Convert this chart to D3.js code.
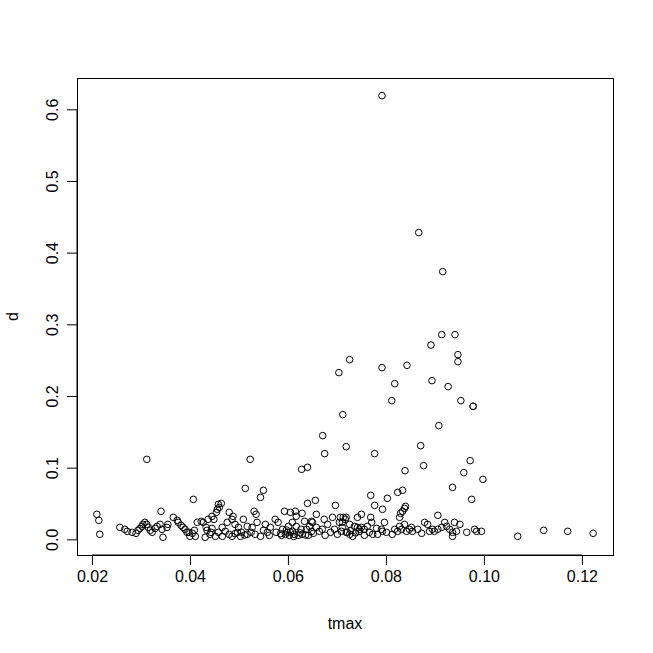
<!DOCTYPE html>
<html><head><meta charset="utf-8">
<script src="https://cdn.jsdelivr.net/npm/d3@7"></script>
<style>body{margin:0;background:#fff}svg{display:block}text{font-family:"Liberation Sans",Arial,sans-serif;fill:#000}</style>
</head><body>
<script>
const tmax = [0.0210,0.0214,0.0216,0.0257,0.0267,0.0272,0.0282,0.0290,0.0294,0.0298,0.0302,0.0304,0.0308,0.0312,0.0315,0.0319,0.0323,0.0329,0.0333,0.0339,0.0341,0.0343,0.0345,0.0353,0.0355,0.0366,0.0374,0.0376,0.0382,0.0386,0.0390,0.0398,0.0405,0.0409,0.0411,0.0407,0.0415,0.0423,0.0427,0.0433,0.0435,0.0443,0.0445,0.0449,0.0445,0.0454,0.0456,0.0458,0.0312,0.0437,0.0441,0.0431,0.0452,0.0400,0.0394,
0.0464,0.0460,0.0513,0.0550,0.0544,0.0523,0.0640,0.0656,0.0697,0.0531,0.0535,0.0480,0.0488,0.0593,0.0605,0.0615,0.0629,0.0617,0.0634,0.0648,0.0658,0.0674,0.0691,0.0707,0.0713,0.0719,
0.0476,0.0486,0.0492,0.0499,0.0509,0.0517,0.0527,0.0537,0.0544,0.0554,0.0564,0.0574,0.0580,0.0589,0.0595,0.0601,0.0609,0.0503,0.0517,0.0486,0.0466,0.0466,0.0458,
0.0609,0.0617,0.0627,0.0638,0.0644,0.0650,0.0658,0.0664,0.0670,0.0681,0.0687,0.0695,0.0705,0.0711,0.0717,0.0721,
0.0599,0.0603,0.0613,0.0621,0.0629,0.0562,0.0576,0.0525,0.0550,0.0472,0.0480,0.0497,0.0533,0.0558,0.0587,0.0642,0.0652,0.0676,0.0701,
0.0585,0.0605,0.0612,0.0625,0.0636,0.0648,0.0597,0.0492,0.0505,0.0512,0.0728,0.0738,0.0745,
0.0742,0.0750,0.0769,0.0711,0.0726,0.0736,0.0742,0.0746,0.0750,0.0756,0.0762,0.0771,0.0709,0.0719,0.0726,0.0732,0.0756,0.0766,0.0773,0.0783,0.0781,0.0791,0.0793,0.0797,0.0801,0.0813,0.0818,0.0824,0.0828,0.0832,0.0838,0.0842,0.0848,0.0852,0.0854,0.0865,0.0873,0.0879,0.0885,0.0889,0.0895,0.0899,0.0906,0.0914,0.0920,0.0924,0.0930,0.0936,0.0940,0.0944,0.0951,0.0936,0.0965,0.0981,0.0985,0.0995,0.0906,
0.0769,0.0803,0.0824,0.0834,0.0777,0.0793,0.0840,0.0838,0.0834,0.0830,0.0828,0.0975,0.0936,0.0998,
0.0792,0.0867,0.0916,0.0914,0.0941,0.0892,0.0947,0.0947,0.0726,0.0704,0.0792,0.0843,0.0818,0.0894,0.0927,0.0812,0.0953,0.0978,0.0978,0.0712,0.0908,0.0671,0.0871,0.0719,0.0675,0.0777,0.0972,0.0877,0.0640,0.0628,0.0959,0.0839,
0.1069,0.1122,0.1171,0.1223];
const d = [0.0349,0.0265,0.0070,0.0167,0.0140,0.0112,0.0098,0.0084,0.0126,0.0153,0.0181,0.0209,0.0237,0.0209,0.0167,0.0126,0.0098,0.0153,0.0181,0.0209,0.0391,0.0140,0.0028,0.0167,0.0209,0.0307,0.0265,0.0237,0.0195,0.0167,0.0140,0.0098,0.0084,0.0126,0.0042,0.0558,0.0237,0.0251,0.0237,0.0167,0.0126,0.0098,0.0153,0.0279,0.0321,0.0377,0.0419,0.0488,0.1116,0.0279,0.0070,0.0028,0.0042,0.0042,0.0098,
0.0502,0.0446,0.0711,0.0684,0.0586,0.1116,0.0502,0.0544,0.0474,0.0391,0.0349,0.0377,0.0321,0.0391,0.0377,0.0391,0.0363,0.0321,0.0251,0.0251,0.0349,0.0279,0.0307,0.0307,0.0307,0.0307,
0.0237,0.0279,0.0209,0.0167,0.0279,0.0181,0.0167,0.0237,0.0042,0.0209,0.0167,0.0279,0.0237,0.0140,0.0070,0.0181,0.0112,0.0042,0.0070,0.0042,0.0042,0.0167,0.0098,
0.0237,0.0181,0.0140,0.0140,0.0181,0.0237,0.0167,0.0112,0.0140,0.0209,0.0098,0.0140,0.0237,0.0167,0.0279,0.0098,
0.0098,0.0056,0.0070,0.0056,0.0070,0.0056,0.0098,0.0098,0.0126,0.0112,0.0070,0.0098,0.0070,0.0098,0.0056,0.0056,0.0084,0.0056,0.0070,
0.0080,0.0100,0.0040,0.0090,0.0060,0.0110,0.0130,0.0080,0.0100,0.0060,0.0120,0.0090,0.0110,
0.0307,0.0349,0.0307,0.0237,0.0209,0.0181,0.0167,0.0140,0.0167,0.0140,0.0181,0.0237,0.0112,0.0098,0.0070,0.0042,0.0056,0.0098,0.0070,0.0070,0.0153,0.0140,0.0112,0.0237,0.0098,0.0070,0.0140,0.0112,0.0181,0.0140,0.0209,0.0112,0.0140,0.0167,0.0112,0.0140,0.0084,0.0237,0.0209,0.0112,0.0140,0.0112,0.0140,0.0167,0.0237,0.0181,0.0140,0.0098,0.0237,0.0112,0.0209,0.0042,0.0098,0.0140,0.0112,0.0112,0.0335,
0.0614,0.0572,0.0656,0.0684,0.0474,0.0419,0.0460,0.0432,0.0391,0.0363,0.0307,0.0558,0.0725,0.0837,
0.6190,0.4280,0.3735,0.2856,0.2856,0.2711,0.2577,0.2479,0.2507,0.2326,0.2396,0.2428,0.2172,0.2214,0.2131,0.1935,0.1935,0.1856,0.1856,0.1740,0.1586,0.1447,0.1307,0.1293,0.1196,0.1196,0.1098,0.1028,0.1005,0.0977,0.0931,0.0958,
0.0042,0.0126,0.0112,0.0084];
const xTicks = [0.02,0.04,0.06,0.08,0.10,0.12];
const yTicks = [0.0,0.1,0.2,0.3,0.4,0.5,0.6];
const xTitle = "tmax", yTitle = "d";

const W = 653, H = 653;
const box = {left: 77, right: 613, top: 78, bottom: 555};
const svg = d3.select("body").append("svg").attr("width", W).attr("height", H);

function padded(arr){ const [a,b] = d3.extent(arr); const p = (b-a)*0.04; return [a-p, b+p]; }
const x = d3.scaleLinear().domain(padded(tmax)).range([box.left, box.right]);
const y = d3.scaleLinear().domain(padded(d)).range([box.bottom, box.top]);

svg.append("rect").attr("x", box.left).attr("y", box.top)
  .attr("width", box.right-box.left).attr("height", box.bottom-box.top)
  .attr("fill","none").attr("stroke","#000").attr("stroke-width",1).attr("shape-rendering","crispEdges");

const xAxis = d3.axisBottom(x).tickValues(xTicks).tickFormat(d3.format(".2f")).tickSize(10).tickPadding(6);
const gx = svg.append("g").attr("transform",`translate(0,${box.bottom})`).call(xAxis);
gx.select(".domain").attr("d", `M${x(xTicks[0])},0H${x(xTicks[xTicks.length-1])}`);
gx.selectAll("text").attr("font-size",16).attr("font-family","Liberation Sans, Arial, sans-serif").attr("fill","#000");

const yAxis = d3.axisLeft(y).tickValues(yTicks).tickFormat(d3.format(".1f")).tickSize(10).tickPadding(6);
const gy = svg.append("g").attr("transform",`translate(${box.left},0)`).call(yAxis);
gy.select(".domain").attr("d", `M0,${y(yTicks[0])}V${y(yTicks[yTicks.length-1])}`);
gy.selectAll("text").attr("font-size",16).attr("font-family","Liberation Sans, Arial, sans-serif").attr("fill","#000")
  .attr("text-anchor","middle").attr("dy",null).attr("x",null)
  .attr("transform", "translate(-25,0) rotate(-90)").attr("dy","0.35em");
svg.selectAll(".tick line, .domain").attr("stroke","#000");

svg.append("text").attr("x",(box.left+box.right)/2).attr("y",629).attr("text-anchor","middle").attr("font-size",16).text(xTitle);
svg.append("text").attr("transform",`translate(18,${(box.top+box.bottom)/2}) rotate(-90)`).attr("text-anchor","middle").attr("font-size",16).text(yTitle);

svg.append("g").selectAll("circle").data(tmax.map((t,i)=>[t,d[i]])).join("circle")
  .attr("cx", p=>x(p[0])).attr("cy", p=>y(p[1])).attr("r",3.3)
  .attr("fill","none").attr("stroke","#000").attr("stroke-width",1);
</script>
</body></html>
